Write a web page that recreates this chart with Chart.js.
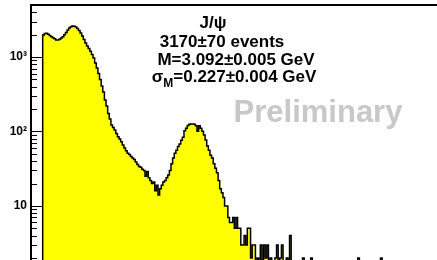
<!DOCTYPE html>
<html>
<head>
<meta charset="utf-8">
<script src="https://cdn.jsdelivr.net/npm/chart.js@4.4.0/dist/chart.umd.min.js"></script>
<style>
  html, body { margin: 0; padding: 0; background: #fff; overflow: hidden; }
  #wrap { position: relative; width: 437px; height: 260px; }
  .lbl {
    position: absolute;
    font-family: "Liberation Sans", Arial, sans-serif;
    font-weight: bold;
    font-size: 17px;
    line-height: 17px;
    white-space: nowrap;
    transform: translateX(-50%);
    color: #000;
  }
  .lbl sub { font-size: 12px; line-height: 0; vertical-align: -5px; }
  #prelim { font-size: 31px; line-height: 31px; color: #c8c8c8; }
</style>
</head>
<body>
<div id="wrap">
  <canvas id="c" width="437" height="260"></canvas>
  <div class="lbl" style="left:213px; top:14px">J/ψ</div>
  <div class="lbl" style="left:222px; top:33px">3170±70 events</div>
  <div class="lbl" style="left:236px; top:51px">M=3.092±0.005 GeV</div>
  <div class="lbl" style="left:234px; top:68px">σ<sub>M</sub>=0.227±0.004 GeV</div>
  <div class="lbl" id="prelim" style="left:318px; top:96px">Preliminary</div>
</div>
<script>
// histogram binning (GeV)
const histMin = 0.70;
const binWidth = 0.025;

// entries per bin (1 = empty / below the frame)
const counts = [
  1970, 2070, 2080, 2020, 1940, 1870, 1815, 1760, 1690, 1700,
  1735, 1800, 1870, 2000, 2130, 2300, 2450, 2545, 2610, 2590,
  2530, 2410, 2270, 2100, 1910, 1720, 1540, 1405, 1300, 1200,
  1080, 970, 830, 712, 600, 500, 408, 339, 265, 220,
  175, 147, 122, 113, 105, 94, 85, 79, 73, 66,
  60, 55, 51, 49, 46, 44, 42, 39, 36, 34,
  33, 31, 30, 25, 29, 24, 22, 20, 21, 16,
  19, 14, 17, 19, 21, 22, 24, 26, 30, 37,
  44, 51, 56, 63, 68, 76, 84, 102, 111, 120,
  125, 126, 126, 125, 119, 101, 119, 111, 101, 90,
  77, 64, 56, 48, 44, 37, 32, 28, 22, 17,
  15, 13, 10, 10, 7, 6, 6, 7, 5, 7,
  5, 5, 3, 3, 4, 3, 5, 5, 2, 3,
  3, 1, 2, 1, 3, 1, 3, 2, 3, 1,
  2, 1, 1, 2, 3, 1, 2, 3, 1, 1,
  2, 1, 4, 1, 1, 1, 1, 1, 1, 1,
  2, 1, 1, 1, 1, 2, 1, 1, 1, 1,
  1, 1, 1, 1, 1, 1, 1, 1, 1, 1,
  1, 1, 1, 1, 1, 1, 1, 1, 1, 1,
  1, 1, 1, 1, 2, 1, 1, 1, 1, 1,
  1, 1, 1, 1, 1, 1, 1, 1, 2, 1,
  1, 1, 1, 1, 1, 1, 1, 1, 1, 1,
  1, 1, 1, 1, 1, 1, 1, 1, 1, 1,
  1, 1, 1, 1, 1, 1, 1, 1, 1, 1,
  1, 1
];

const yTickValues = [10, 100, 1000];
const yTickLabels = ['10', '10²', '10³'];

const xRange = [0.52, 6.77];
const yRange = [1.88, 5000];

// bin centres, plus an empty bin in front so the left edge is drawn
const points = [{ x: histMin - binWidth / 2, y: 0.5 }];
counts.forEach((v, i) => {
  points.push({ x: histMin + binWidth * (i + 0.5), y: v });
});

// ROOT style ticks, drawn inside the frame
const innerTicks = {
  id: 'innerTicks',
  afterDatasetsDraw(chart) {
    const y = chart.scales.y;
    const ctx = chart.ctx;
    const area = chart.chartArea;
    ctx.save();
    ctx.strokeStyle = '#000';
    ctx.lineWidth = 1;
    y.ticks.forEach(t => {
      const py = Math.round(y.getPixelForValue(t.value)) + 0.5;
      if (py < area.top + 1 || py > area.bottom) return;
      const len = yTickValues.includes(t.value) ? 11 : 6;
      ctx.beginPath();
      ctx.moveTo(area.left, py);
      ctx.lineTo(area.left + len, py);
      ctx.stroke();
    });
    ctx.restore();
  }
};

new Chart(document.getElementById('c'), {
  type: 'line',
  data: {
    datasets: [{
      data: points,
      stepped: 'middle',
      fill: 'start',
      backgroundColor: '#ffff00',
      borderColor: '#000',
      borderWidth: 1.5,
      pointRadius: 0
    }]
  },
  options: {
    responsive: false,
    animation: false,
    devicePixelRatio: 1,
    layout: { padding: 0 },
    plugins: { legend: { display: false }, tooltip: { enabled: false } },
    scales: {
      x: {
        type: 'linear',
        position: 'top',
        min: xRange[0],
        max: xRange[1],
        ticks: { display: false },
        grid: { display: false, drawTicks: false },
        border: { display: true, color: '#000', width: 2 },
        afterFit: s => {
          s.height = 5;
          s.paddingLeft = 0;
          s.paddingRight = 0;
        }
      },
      y: {
        type: 'logarithmic',
        min: yRange[0],
        max: yRange[1],
        grid: { display: false, drawTicks: false },
        border: { display: true, color: '#000', width: 2 },
        afterBuildTicks: s => {
          const ticks = [];
          [1, 10, 100, 1000].forEach(d => {
            for (let k = 1; k <= 9; k++) {
              const v = k * d;
              if (v >= s.min && v <= s.max) ticks.push({ value: v });
            }
          });
          s.ticks = ticks;
        },
        ticks: {
          autoSkip: false,
          padding: 4,
          color: '#000',
          font: { family: '"Liberation Sans", Arial, sans-serif', weight: 'bold', size: 12 },
          callback: v => {
            const i = yTickValues.indexOf(v);
            return i >= 0 ? yTickLabels[i] : '';
          }
        },
        afterFit: s => {
          s.width = 31;
          s.paddingTop = 0;
          s.paddingBottom = 0;
        }
      }
    }
  },
  plugins: [innerTicks]
});
</script>
</body>
</html>
